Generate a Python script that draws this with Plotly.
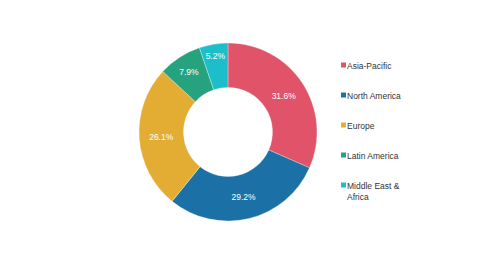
import plotly.graph_objects as go

regions = ["Asia-Pacific", "North America", "Europe", "Latin America", "Middle East &<br>Africa"]
shares = [31.6, 29.2, 26.1, 7.9, 5.2]
colors = ["#E05368", "#1B70A6", "#E3AD34", "#27A27F", "#1CBFC9"]
share_labels = [f"{v}%" for v in shares]

W, H = 490, 264
cx, cy, r = 228, 132, 89

fig = go.Figure()
fig.add_trace(go.Pie(
    labels=regions,
    values=shares,
    text=share_labels,
    textinfo="text",
    textposition="inside",
    insidetextorientation="horizontal",
    textfont=dict(family="Liberation Sans, Arial, sans-serif", size=8.5, color="white"),
    marker=dict(colors=colors, line=dict(color="rgba(255,255,255,0.6)", width=0.5)),
    hole=0.5,
    sort=False,
    direction="clockwise",
    rotation=0,
    showlegend=False,
    domain=dict(x=[(cx - r) / W, (cx + r) / W], y=[(H - cy - r) / H, (H - cy + r) / H]),
))

# Manual legend
leg_x0 = 341
leg_y = [65, 95, 125, 155, 185]
shapes = []
annotations = []
for name, col, y in zip(regions, colors, leg_y):
    shapes.append(dict(type="rect", xref="paper", yref="paper",
                       x0=leg_x0 / W, x1=(leg_x0 + 5) / W,
                       y0=(H - y - 2.5) / H, y1=(H - y + 2.5) / H,
                       fillcolor=col, line=dict(width=0)))
    annotations.append(dict(xref="paper", yref="paper", x=(leg_x0 + 4) / W, y=(H - y + 6) / H,
                            xanchor="left", yanchor="top", text=name, showarrow=False, align="left",
                            font=dict(family="Liberation Sans, Arial, sans-serif", size=8.5, color="#333333")))

fig.update_layout(
    width=W, height=H,
    margin=dict(l=0, r=0, t=0, b=0),
    paper_bgcolor="white",
    plot_bgcolor="white",
    shapes=shapes,
    annotations=annotations,
)

fig.write_html("out.html")
